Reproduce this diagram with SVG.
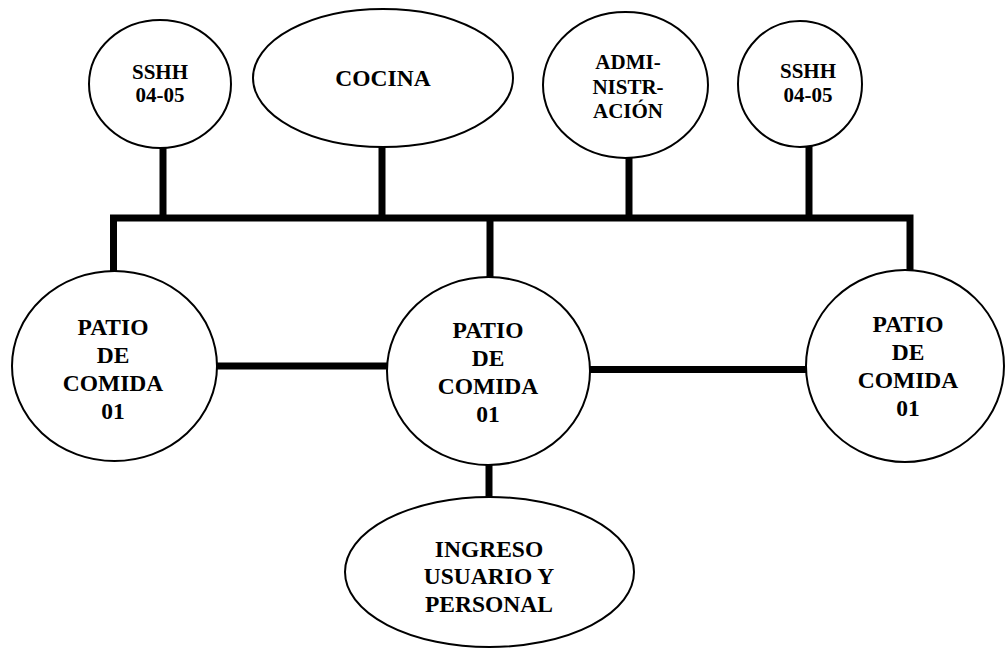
<svg xmlns="http://www.w3.org/2000/svg" width="1006" height="648" viewBox="0 0 1006 648">
<style>
.n{fill:#fff;stroke:#000;stroke-width:2}
.c{stroke:#000;stroke-width:7;fill:none;stroke-linecap:butt}
text{font-family:'Liberation Serif','Times New Roman',Times,serif;font-weight:700;text-anchor:middle;fill:#000}
.s{font-size:21px}
.l{font-size:23.5px}
</style>
<rect width="1006" height="648" fill="#fff"/>
<g id="connectors">
<polyline class="c" points="113.5,271 113.5,218 910,218 910,270"/>
<line class="c" x1="163" y1="147" x2="163" y2="218"/>
<line class="c" x1="382" y1="146" x2="382" y2="218"/>
<line class="c" x1="629" y1="157" x2="629" y2="218"/>
<line class="c" x1="809" y1="146" x2="809" y2="218"/>
<line class="c" x1="490" y1="218" x2="490" y2="278"/>
<line class="c" x1="216" y1="366" x2="388" y2="366"/>
<line class="c" x1="589" y1="369.5" x2="807" y2="369.5"/>
<line class="c" x1="489" y1="464" x2="489" y2="498"/>
</g>
<g id="sshh1"><ellipse class="n" cx="160" cy="84" rx="71" ry="64"/>
<text class="s" x="160" y="79">SSHH</text><text class="s" x="160" y="102">04-05</text></g>
<g id="cocina"><ellipse class="n" cx="383" cy="78" rx="130" ry="69"/>
<text class="l" x="383" y="86">COCINA</text></g>
<g id="admin"><ellipse class="n" cx="625.5" cy="85" rx="82.5" ry="73"/>
<text class="s" x="628" y="69">ADMI-</text><text class="s" x="628" y="94">NISTR-</text><text class="s" x="628" y="118">ACIÓN</text></g>
<g id="sshh2"><ellipse class="n" cx="800" cy="84" rx="62" ry="63"/>
<text class="s" x="808" y="78">SSHH</text><text class="s" x="808" y="102">04-05</text></g>
<g id="patio1"><ellipse class="n" cx="114.5" cy="366" rx="102.5" ry="95"/>
<text class="l" x="113" y="335">PATIO</text><text class="l" x="113" y="363">DE</text><text class="l" x="113" y="391">COMIDA</text><text class="l" x="113" y="419">01</text></g>
<g id="patio2"><ellipse class="n" cx="488.5" cy="371" rx="101.5" ry="94"/>
<text class="l" x="488" y="338">PATIO</text><text class="l" x="488" y="366">DE</text><text class="l" x="488" y="394">COMIDA</text><text class="l" x="488" y="422">01</text></g>
<g id="patio3"><ellipse class="n" cx="905" cy="366" rx="99" ry="96"/>
<text class="l" x="908" y="332">PATIO</text><text class="l" x="908" y="360">DE</text><text class="l" x="908" y="388">COMIDA</text><text class="l" x="908" y="416">01</text></g>
<g id="ingreso"><ellipse class="n" cx="489.5" cy="572" rx="144.5" ry="75"/>
<text class="l" x="489" y="557">INGRESO</text><text class="l" x="489" y="584">USUARIO Y</text><text class="l" x="489" y="612">PERSONAL</text></g>
</svg>
